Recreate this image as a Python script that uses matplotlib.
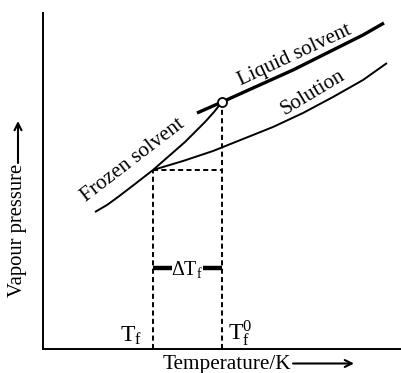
import matplotlib
matplotlib.use("Agg")
import matplotlib.pyplot as plt

plt.rcParams['font.family'] = ['Liberation Serif', 'DejaVu Serif']
plt.rcParams['mathtext.fontset'] = 'custom'
plt.rcParams['mathtext.rm'] = 'Liberation Serif'
plt.rcParams['mathtext.it'] = 'Liberation Serif:italic'

# --- curve data (arbitrary units) ---
frozen_x = [52, 64, 75, 92, 110, 126, 142, 152, 162, 171, 179]
frozen_y = [137, 144, 152, 165, 179, 193, 207, 217, 227, 237, 247]

liquid_x = [154, 179, 210, 250, 290, 320, 341]
liquid_y = [236, 247, 261, 279, 299, 314, 326]

solution_x = [110, 140, 170, 200, 230, 260, 290, 320, 344]
solution_y = [179, 188, 198, 210, 222, 236, 252, 269, 286]

# freezing points and the vapour pressures where the curves meet
Tf, Tf0 = 110, 179
p_Tf, p_Tf0 = 179, 247
delta_y = 81

fig = plt.figure(figsize=(4.01, 3.73), dpi=100)
ax = fig.add_axes([43 / 401, 24 / 373, 358 / 401, 336 / 373])
ax.set_xlim(0, 358)
ax.set_ylim(0, 336)
for s in ['top', 'right']:
    ax.spines[s].set_visible(False)
for s in ['left', 'bottom']:
    ax.spines[s].set_linewidth(1.4)
ax.set_xticks([])
ax.set_yticks([])

ax.plot(frozen_x, frozen_y, color='black', lw=1.4, solid_capstyle='butt')
ax.plot(liquid_x, liquid_y, color='black', lw=2.4, solid_capstyle='butt')
ax.plot(solution_x, solution_y, color='black', lw=1.4, solid_capstyle='butt')

dash = (0, (2.6, 1.7))
ax.plot([Tf, Tf], [0, p_Tf], color='black', lw=1.4, ls=dash)
ax.plot([Tf0, Tf0], [0, p_Tf0], color='black', lw=1.4, ls=dash)
ax.plot([Tf, Tf0], [p_Tf, p_Tf], color='black', lw=1.4, ls=dash)

ax.plot([Tf0], [p_Tf0], marker='o', ms=6.5, mfc='white', mec='black', mew=1.3,
        zorder=5)

# delta T_f bar
ax.plot([Tf, Tf + 19], [delta_y, delta_y], color='black', lw=3.2,
        solid_capstyle='butt')
ax.plot([Tf0 - 19, Tf0], [delta_y, delta_y], color='black', lw=3.2,
        solid_capstyle='butt')
ax.text((Tf + Tf0) / 2, delta_y - 1, r'$\Delta\mathrm{T}_\mathrm{f}$', fontsize=14.5,
        ha='center', va='center')

ax.text(Tf - 22, 13, r'$\mathrm{T}_\mathrm{f}$', fontsize=17, ha='center',
        va='center')
ax.text(Tf0 + 18, 16, r'$\mathrm{T}_\mathrm{f}^\mathrm{0}$', fontsize=17,
        ha='center', va='center')

# curve labels
ax.text(90, 189, 'Frozen solvent', fontsize=15.2, rotation=37.5,
        ha='center', va='center', rotation_mode='anchor')
ax.text(252, 294, 'Liquid solvent', fontsize=15.2, rotation=25,
        ha='center', va='center', rotation_mode='anchor')
ax.text(270, 256, 'Solution', fontsize=15.2, rotation=31,
        ha='center', va='center', rotation_mode='anchor')

# axis labels with arrows
ax.text(-25, 119, 'Vapour pressure', fontsize=14.9, rotation=90,
        ha='center', va='center', clip_on=False)
ax.annotate('', xy=(-25, 228), xytext=(-25, 186), annotation_clip=False,
            arrowprops=dict(arrowstyle='->,head_length=0.5,head_width=0.25',
                            lw=1.5, color='black', shrinkA=0, shrinkB=0))
ax.text(184, -19.5, 'Temperature/K', fontsize=15.3, ha='center', va='baseline',
        clip_on=False)
ax.annotate('', xy=(311, -14.5), xytext=(250, -14.5), annotation_clip=False,
            arrowprops=dict(arrowstyle='->,head_length=0.5,head_width=0.25',
                            lw=1.5, color='black', shrinkA=0, shrinkB=0))

fig.savefig('out.png', dpi=100)
